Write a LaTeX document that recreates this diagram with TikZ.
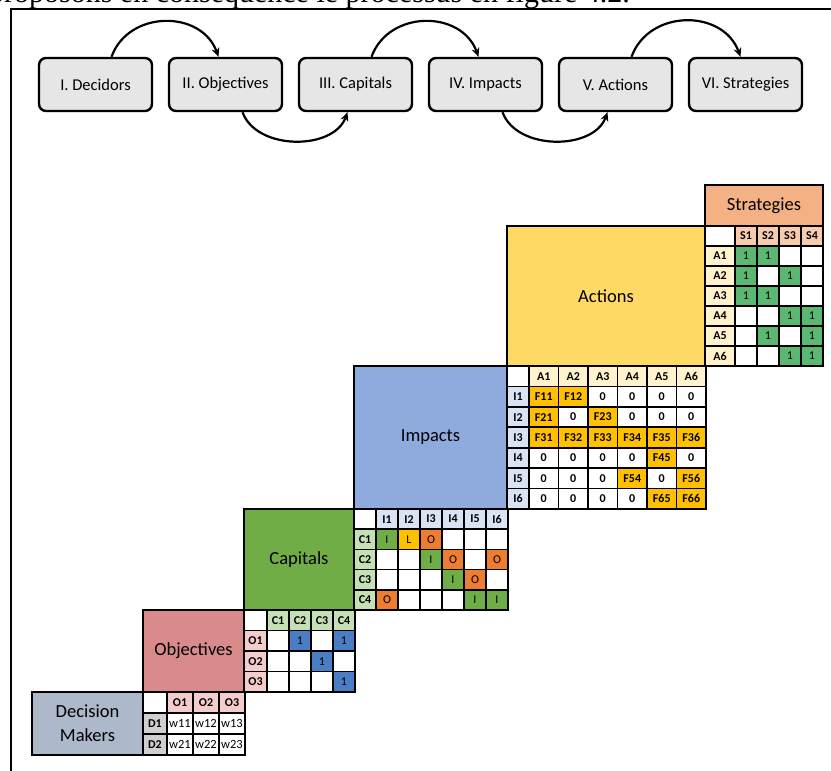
\documentclass[tikz,border=0pt]{standalone}
\usepackage{fontspec}
\setmainfont{Carlito}
\newfontfamily\serifpage{Liberation Serif}
\usetikzlibrary{arrows.meta}
\definecolor{stagegray}{RGB}{231,230,230}
\definecolor{stratorange}{RGB}{244,177,131}
\definecolor{stratlight}{RGB}{248,203,173}
\definecolor{actyellow}{RGB}{255,217,102}
\definecolor{actlight}{RGB}{255,242,204}
\definecolor{impblue}{RGB}{143,170,220}
\definecolor{implight}{RGB}{218,227,243}
\definecolor{capgreen}{RGB}{112,173,71}
\definecolor{caplight}{RGB}{197,224,180}
\definecolor{objred}{RGB}{217,138,138}
\definecolor{objlight}{RGB}{244,204,204}
\definecolor{dmgray}{RGB}{173,185,202}
\definecolor{dmlight}{RGB}{208,206,206}
\colorlet{cellw}{white}
\definecolor{cellg}{RGB}{90,184,115}
\definecolor{celly}{RGB}{255,192,0}
\definecolor{cello}{RGB}{237,125,49}
\colorlet{cellc}{capgreen}
\definecolor{cellb}{RGB}{74,126,196}

\begin{document}
\begin{tikzpicture}[x=1pt,y=-1pt,>=Stealth,
  stage/.style={draw,line width=2.4pt,rounded corners=7pt,fill=stagegray,minimum width=113pt,minimum height=53pt,inner sep=0pt,font=\fontsize{16.5}{16.5}\selectfont},
  flow/.style={-{Stealth[length=9pt,width=8pt]},line width=2.2pt},
  block/.style={draw,line width=2.6pt,anchor=north west,inner sep=0pt,outer sep=0pt,align=center,font=\fontsize{18.5}{24}\selectfont},
  cell/.style={draw,line width=1.7pt,fill=white,anchor=north west,inner sep=0pt,outer sep=0pt,font=\fontsize{12}{12}\selectfont},
  bcell/.style={cell,font=\bfseries\fontsize{12}{12}\selectfont},
  sz/.style 2 args={minimum width=#1,minimum height=#2},
  outline/.style={line width=2.8pt}]
\useasboundingbox (0,0) rectangle (831,771);
\node[anchor=base east,inner sep=0pt,font=\serifpage\fontsize{30}{30}\selectfont] (intro) at (630,2.7) {proposons en conséquence le processus en figure 4.2.};
\draw[line width=1.6pt] (11,775) -- (11,9) -- (835,9);

% process steps
\foreach \name/\lab [count=\i] in {decidors/I. Decidors,objectives/II. Objectives,capitals/III. Capitals,impacts/IV. Impacts,actions/V. Actions,strategies/VI. Strategies}
  \node[stage] (\name) at ({95.5+130*(\i-1)},84.5) {\lab};
\draw[flow] ([xshift=16pt]decidors.north) to[out=70,in=110,looseness=1.2] ([xshift=-7pt]objectives.north);
\draw[flow] ([xshift=16pt]capitals.north) to[out=70,in=110,looseness=1.2] ([xshift=-7pt]impacts.north);
\draw[flow] ([xshift=16pt]actions.north) to[out=70,in=110,looseness=1.2] ([xshift=-5pt]strategies.north);
\draw[flow] ([xshift=17pt]objectives.south) to[out=-70,in=-110] ([xshift=-8pt]capitals.south);
\draw[flow] ([xshift=17pt]impacts.south) to[out=-70,in=-110] ([xshift=-8pt]actions.south);

% staircase blocks
\node[block,fill=dmgray,sz={111pt}{63pt}] (dmbox) at (32,692) {Decision\\Makers};
\node[block,fill=objred,sz={101pt}{82pt}] (objbox) at (143,610) {Objectives};
\node[block,fill=capgreen,sz={110pt}{101pt}] (capbox) at (244,509) {Capitals};
\node[block,fill=impblue,sz={153pt}{143pt}] (impbox) at (354,366) {Impacts};
\node[block,fill=actyellow,sz={198pt}{140pt}] (actbox) at (507,226) {Actions};
\node[block,fill=stratorange,sz={118pt}{41pt}] (stratbox) at (705,185) {Strategies};

% decision makers x objectives
\node[cell,sz={24pt}{21pt}] (dm-0-0) at (143,692) {};
\foreach \lab [count=\c] in {O1,O2,O3}
  \node[bcell,fill=objlight,sz={26pt}{21pt}] (dm-0-\c) at ({141+26*\c},692) {\lab};
\foreach \lab/\cells [count=\r] in {D1/{w/w11,w/w12,w/w13},D2/{w/w21,w/w22,w/w23}} {
  \node[bcell,fill=dmlight,sz={24pt}{21pt}] (dm-\r-0) at (143,{692+21*\r}) {\lab};
  \foreach \f/\t [count=\c] in \cells
    \node[cell,fill=cell\f,sz={26pt}{21pt},font=\fontsize{12.5}{12.5}\selectfont] (dm-\r-\c) at ({141+26*\c},{692+21*\r}) {\t};
}
\draw[outline] (dm-0-0.north west) rectangle (dm-2-3.south east);

% objectives x capitals
\node[cell,sz={23pt}{20.5pt}] (ob-0-0) at (244,610) {};
\foreach \lab [count=\c] in {C1,C2,C3,C4}
  \node[bcell,fill=caplight,sz={22pt}{20.5pt}] (ob-0-\c) at ({245+22*\c},610) {\lab};
\foreach \lab/\cells [count=\r] in {O1/{w/,b/1,w/,b/1},O2/{w/,w/,b/1,w/},O3/{w/,w/,w/,b/1}} {
  \node[bcell,fill=objlight,sz={23pt}{20.5pt}] (ob-\r-0) at (244,{610+20.5*\r}) {\lab};
  \foreach \f/\t [count=\c] in \cells
    \node[cell,fill=cell\f,sz={22pt}{20.5pt}] (ob-\r-\c) at ({245+22*\c},{610+20.5*\r}) {\t};
}
\draw[outline] (ob-0-0.north west) rectangle (ob-3-4.south east);

% capitals x impacts
\node[cell,sz={22pt}{20.2pt}] (ca-0-0) at (354,509) {};
\foreach \lab [count=\c] in {I1,I2,I3,I4,I5,I6}
  \node[bcell,fill=implight,sz={22pt}{20.2pt}] (ca-0-\c) at ({354+22*\c},509) {\lab};
\foreach \lab/\cells [count=\r] in {C1/{c/I,y/L,o/O,w/,w/,w/},C2/{w/,w/,c/I,o/O,w/,o/O},C3/{w/,w/,w/,c/I,o/O,w/},C4/{o/O,w/,w/,w/,c/I,c/I}} {
  \node[bcell,fill=caplight,sz={22pt}{20.2pt}] (ca-\r-0) at (354,{509+20.2*\r}) {\lab};
  \foreach \f/\t [count=\c] in \cells
    \node[cell,fill=cell\f,sz={22pt}{20.2pt}] (ca-\r-\c) at ({354+22*\c},{509+20.2*\r}) {\t};
}
\draw[outline] (ca-0-0.north west) rectangle (ca-4-6.south east);

% impacts x actions
\node[cell,sz={22pt}{20.43pt}] (im-0-0) at (507,366) {};
\foreach \lab [count=\c] in {A1,A2,A3,A4,A5,A6}
  \node[bcell,fill=actlight,sz={29.5pt}{20.43pt}] (im-0-\c) at ({499.5+29.5*\c},366) {\lab};
\foreach \lab/\cells [count=\r] in {I1/{y/F11,y/F12,w/0,w/0,w/0,w/0},I2/{y/F21,w/0,y/F23,w/0,w/0,w/0},I3/{y/F31,y/F32,y/F33,y/F34,y/F35,y/F36},I4/{w/0,w/0,w/0,w/0,y/F45,w/0},I5/{w/0,w/0,w/0,y/F54,w/0,y/F56},I6/{w/0,w/0,w/0,w/0,y/F65,y/F66}} {
  \node[bcell,fill=implight,sz={22pt}{20.43pt}] (im-\r-0) at (507,{366+20.43*\r}) {\lab};
  \foreach \f/\t [count=\c] in \cells
    \node[bcell,fill=cell\f,sz={29.5pt}{20.43pt}] (im-\r-\c) at ({499.5+29.5*\c},{366+20.43*\r}) {\t};
}
\draw[outline] (im-0-0.north west) rectangle (im-6-6.south east);

% actions x strategies
\node[cell,sz={30pt}{20pt}] (st-0-0) at (705,226) {};
\foreach \lab [count=\c] in {S1,S2,S3,S4}
  \node[bcell,fill=stratlight,sz={22pt}{20pt}] (st-0-\c) at ({713+22*\c},226) {\lab};
\foreach \lab/\cells [count=\r] in {A1/{g/1,g/1,w/,w/},A2/{g/1,w/,g/1,w/},A3/{g/1,g/1,w/,w/},A4/{w/,w/,g/1,g/1},A5/{w/,g/1,w/,g/1},A6/{w/,w/,g/1,g/1}} {
  \node[bcell,fill=actlight,sz={30pt}{20pt}] (st-\r-0) at (705,{226+20*\r}) {\lab};
  \foreach \f/\t [count=\c] in \cells
    \node[cell,fill=cell\f,sz={22pt}{20pt}] (st-\r-\c) at ({713+22*\c},{226+20*\r}) {\t};
}
\draw[outline] (st-0-0.north west) rectangle (st-6-4.south east);
\end{tikzpicture}
\end{document}
